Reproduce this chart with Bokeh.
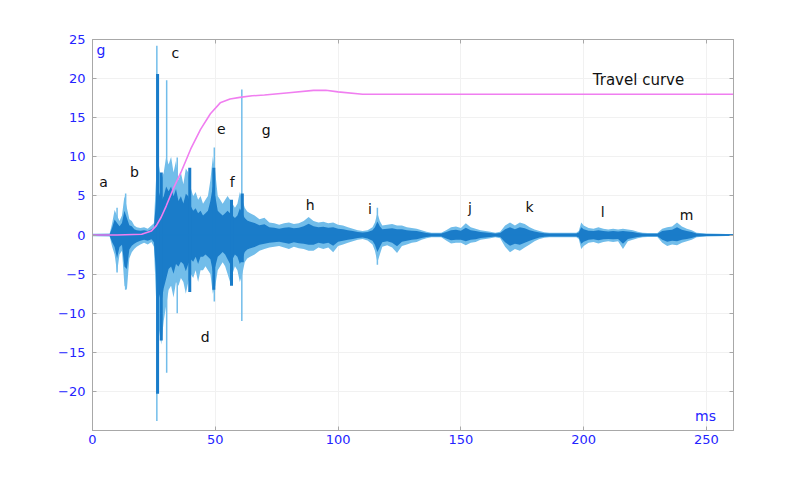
from bokeh.plotting import figure
from bokeh.models import Range1d, LinearAxis, FixedTicker, Label
from bokeh.embed import file_html
from bokeh.resources import INLINE
from bokeh.core.properties import value

# ---------------- data ----------------
# vibration signal envelope (time in ms, acceleration in g)
t_env = [0, 7, 8, 9, 10, 11, 12, 13, 14, 15, 16, 17, 18, 19.5, 21, 22.5, 24, 25,
         26, 27, 28, 29, 30, 31, 32, 33, 34, 35, 36, 37, 38, 39, 40, 41, 42, 43,
         44, 45, 46, 47, 48, 49, 50, 51, 52, 53, 54, 55, 56, 57, 58, 59, 60, 61,
         62, 63, 64, 66, 68, 70, 72, 74, 76, 78, 80, 82, 84, 86, 88, 90, 92, 94,
         96, 98, 100, 102, 104, 106, 108, 110, 112, 114, 115, 116, 117, 118, 120,
         122, 124, 126, 128, 130, 132, 134, 136, 138, 140, 142, 144, 146, 148, 150,
         152, 154, 156, 158, 160, 162, 164, 166, 168, 170, 172, 174, 176, 178, 180,
         182, 184, 186, 190, 194, 197, 198, 199, 200, 202, 204, 206, 208, 210, 212,
         214, 216, 218, 220, 222, 224, 226, 230, 232, 234, 236, 238, 240, 242, 244,
         246, 250, 255, 261]
light_hi = [0.15, 0.2, 1.5, 3.2, 2.5, 1.8, 2.5, 5.0, 3.5, 2.0, 1.8, 1.2, 1.0, 0.9, 1.0, 0.8, 1.2, 1.5,
            8.0, 9.0, 7.0, 8.0, 10.0, 9.0, 10.0, 8.0, 9.5, 7.0, 8.0, 6.5, 8.5, 8.0, 6.0, 5.0, 5.5, 4.5,
            5.0, 4.0, 4.5, 5.0, 7.0, 10.0, 8.0, 5.0, 4.5, 4.0, 4.5, 5.0, 4.5, 4.0, 3.5, 4.0, 5.5, 4.5,
            3.5, 3.0, 2.8, 2.5, 2.0, 2.2, 1.6, 1.5, 1.3, 1.5, 1.6, 1.4, 1.5, 1.8, 2.3, 1.8, 1.6, 1.7,
            1.5, 1.6, 1.3, 1.2, 1.0, 0.8, 0.6, 0.5, 0.6, 1.0, 1.6, 2.8, 1.8, 1.2, 1.3,
            1.4, 1.2, 1.2, 1.0, 0.9, 0.8, 0.6, 0.4, 0.3, 0.3, 0.3, 0.6, 1.0, 1.1, 0.9,
            1.5, 1.0, 0.8, 0.6, 0.5, 0.4, 0.3, 0.4, 1.2, 1.6, 1.2, 1.6, 1.4, 1.0, 0.7,
            0.5, 0.35, 0.3, 0.3, 0.3, 0.3, 0.5, 1.6, 1.2, 0.9, 0.8, 1.0, 0.8, 0.7, 0.8,
            0.7, 0.8, 0.7, 0.6, 0.4, 0.3, 0.25, 0.25, 0.8, 1.0, 1.1, 1.6, 1.1, 0.8, 0.6,
            0.3, 0.2, 0.15, 0.1]
light_lo = [-0.15, -0.2, -1.5, -2.5, -4.8, -2.5, -2.0, -6.5, -7.0, -3.0, -2.2, -1.8, -1.5, -1.2, -1.0, -1.2, -0.9, -1.5,
            -9.0, -12.0, -14.0, -11.0, -9.0, -7.0, -6.5, -8.0, -6.0, -6.5, -5.5, -6.0, -7.5, -6.0, -5.0, -5.5, -4.5, -6.0,
            -4.5, -4.5, -4.0, -4.5, -5.0, -7.5, -6.5, -4.5, -4.0, -3.5, -4.0, -5.0, -6.0, -5.0, -4.0, -4.5, -6.0, -5.0,
            -3.5, -3.0, -2.8, -2.5, -2.0, -1.8, -1.6, -1.5, -1.4, -1.6, -1.8, -1.5, -1.7, -1.8, -2.0, -2.0, -1.6, -1.8,
            -1.6, -2.2, -1.4, -1.2, -1.0, -0.8, -0.6, -0.5, -0.7, -1.2, -2.0, -3.5, -2.5, -1.5, -1.3,
            -1.6, -2.3, -1.4, -1.2, -1.0, -0.9, -0.6, -0.4, -0.3, -0.3, -0.3, -0.7, -1.1, -1.0, -1.0,
            -1.3, -1.0, -0.9, -0.6, -0.5, -0.4, -0.3, -0.4, -1.5, -2.2, -1.8, -2.0, -1.6, -1.2, -0.8,
            -0.5, -0.35, -0.3, -0.3, -0.3, -0.3, -0.5, -1.8, -1.4, -1.0, -0.9, -1.1, -0.9, -0.8, -0.9,
            -0.8, -1.8, -0.8, -0.6, -0.4, -0.3, -0.25, -0.25, -1.0, -1.4, -1.2, -1.3, -1.0, -0.8, -0.6,
            -0.3, -0.2, -0.15, -0.1]
core_share = 0.62
dark_hi = [v * core_share for v in light_hi]
dark_lo = [v * core_share for v in light_lo]

# single tall spikes (light = thin outer trace, dark = core)
spike_t = [10, 13.5, 26.2, 30.2, 34.5, 49.6, 60.8, 116]
spike_hi = [3.5, 5.3, 24.2, 19.8, 9.9, 11.2, 18.6, 3.5]
spike_lo = [-4.8, -7.0, -23.8, -17.6, -10.0, -8.5, -11.0, -3.8]
core_t = [26.5, 28.0, 39.6, 49.4, 56.6, 61.0]
core_hi = [20.6, 8.0, 8.6, 8.6, 4.5, 5.3]
core_lo = [-20.3, -13.5, -7.3, -7.0, -6.5, -3.5]

# travel curve
travel_t = [0, 10, 20, 24, 26, 28, 30, 33, 36, 40, 44, 48, 52, 56, 60, 65, 70, 80, 90,
            95, 100, 110, 120, 150, 200, 261]
travel_v = [0, 0, 0.1, 0.5, 1.2, 2.3, 3.7, 6.0, 8.0, 11.0, 13.5, 15.5, 16.9, 17.4, 17.6,
            17.8, 17.9, 18.2, 18.5, 18.5, 18.3, 18.0, 18.0, 18.0, 18.0, 18.0]

# event labels
lab_text = ["a", "b", "c", "d", "e", "f", "g", "h", "i", "j", "k", "l", "m"]
lab_t = [4.5, 17.1, 33.7, 45.9, 52.4, 56.9, 70.7, 88.6, 113.0, 153.7, 178.0, 207.7, 241.9]
lab_v = [6.8, 8.1, 23.3, -13.0, 13.6, 6.8, 13.4, 3.8, 3.3, 3.4, 3.6, 2.9, 2.5]

x_ticks = [0, 50, 100, 150, 200, 250]
y_ticks = [-20, -15, -10, -5, 0, 5, 10, 15, 20, 25]
y_ticks_all = [-25, -20, -15, -10, -5, 0, 5, 10, 15, 20, 25]

# ---------------- styling ----------------
LIGHT = "#72bdea"
DARK = "#1a7cc9"
MAGENTA = "#f07ef0"
BLUE_TXT = "#2424ff"
FRAME = "#a8a8a8"

p = figure(frame_width=641, frame_height=391, output_backend="svg", toolbar_location=None,
           x_range=Range1d(0, 261), y_range=Range1d(-25, 25),
           min_border_left=92, min_border_right=59, min_border_top=39, min_border_bottom=42,
           background_fill_color="white", border_fill_color="white")
p.outline_line_color = FRAME

for ax in (p.xaxis[0], p.yaxis[0]):
    ax.axis_line_color = FRAME
    ax.major_tick_line_color = FRAME
    ax.major_tick_in = 4
    ax.major_tick_out = 0
    ax.minor_tick_line_color = None
    ax.major_label_text_color = BLUE_TXT
    ax.major_label_text_font = "DejaVu Sans"
    ax.major_label_text_font_size = "13px"
p.xaxis.ticker = FixedTicker(ticks=x_ticks)
p.yaxis.ticker = FixedTicker(ticks=y_ticks)
p.xaxis.major_label_standoff = 4
p.yaxis.major_label_standoff = 7

right = LinearAxis(ticker=FixedTicker(ticks=y_ticks_all),
                   major_label_overrides={t: "" for t in y_ticks_all},
                   axis_line_color=FRAME, major_tick_line_color=FRAME, major_tick_in=4,
                   major_tick_out=0, minor_tick_line_color=None)
top = LinearAxis(ticker=FixedTicker(ticks=x_ticks),
                 major_label_overrides={t: "" for t in x_ticks},
                 axis_line_color=FRAME, major_tick_line_color=FRAME, major_tick_in=4,
                 major_tick_out=0, minor_tick_line_color=None)
p.add_layout(right, "right")
p.add_layout(top, "above")

p.xgrid.ticker = FixedTicker(ticks=x_ticks)
p.ygrid.ticker = FixedTicker(ticks=y_ticks_all)
p.grid.grid_line_color = "#f1f1f1"

# signal
p.varea(x=t_env, y1=light_lo, y2=light_hi, fill_color=LIGHT)
p.segment(x0=spike_t, y0=spike_lo, x1=spike_t, y1=spike_hi, line_color=LIGHT, line_width=1.5)
p.varea(x=t_env, y1=dark_lo, y2=dark_hi, fill_color=DARK)
p.segment(x0=core_t, y0=core_lo, x1=core_t, y1=core_hi, line_color=DARK, line_width=3)
p.line(x=t_env, y=[0.0] * len(t_env), line_color=DARK, line_width=1.5)

# travel curve
p.line(x=travel_t, y=travel_v, line_color=MAGENTA, line_width=1.6)

# labels
p.text(x=lab_t, y=lab_v, text=lab_text, text_align="center", text_baseline="middle",
       text_color="#111111", text_font=value("DejaVu Sans"), text_font_size="14px")
p.add_layout(Label(x=203.7, y=19.8, text="Travel curve", text_align="left", text_baseline="middle",
                   text_color="#111111", text_font="DejaVu Sans", text_font_size="15px"))
p.add_layout(Label(x=1.6, y=23.6, text="g", text_align="left", text_baseline="middle",
                   text_color=BLUE_TXT, text_font="DejaVu Sans", text_font_size="14px"))
p.add_layout(Label(x=249.6, y=-23.1, text="ms", text_align="center", text_baseline="middle",
                   text_color=BLUE_TXT, text_font="DejaVu Sans", text_font_size="14px"))

open("out.html", "w").write(file_html(p, INLINE))
